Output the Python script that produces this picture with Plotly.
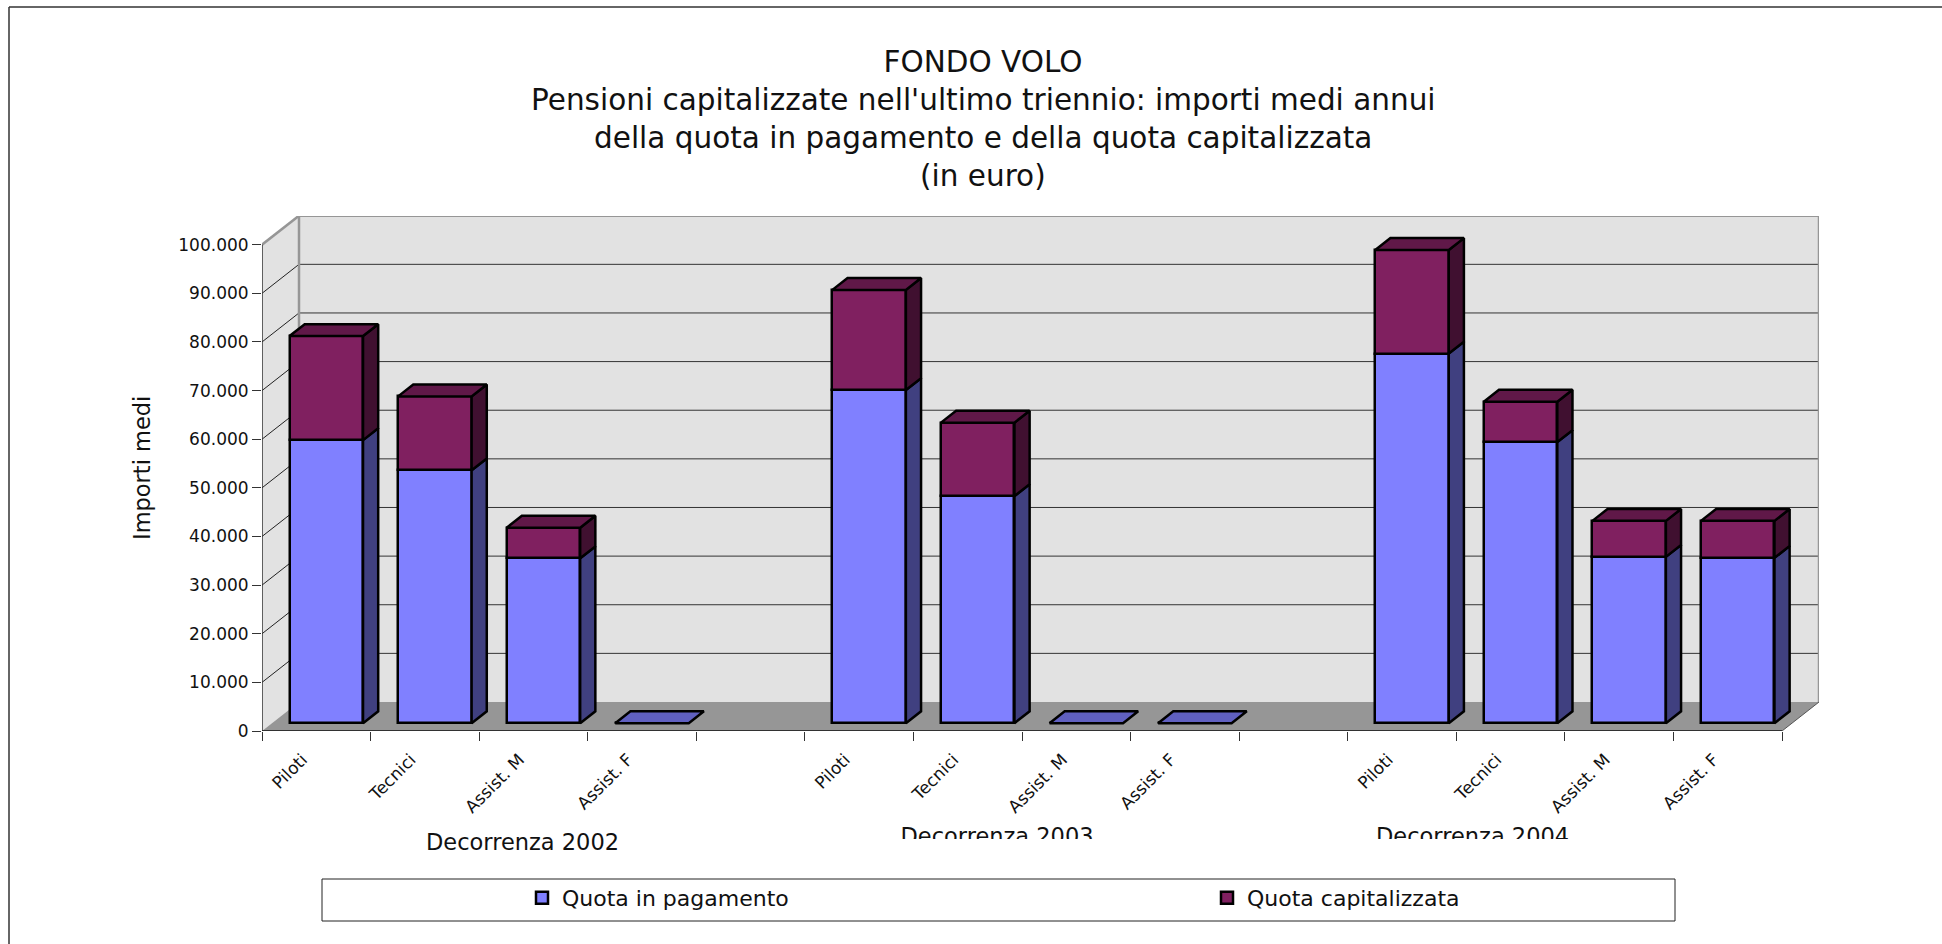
import plotly.graph_objects as go

# --- data -----------------------------------------------------------------
categories = ["Piloti", "Tecnici", "Assist. M", "Assist. F"]
group_names = ["Decorrenza 2002", "Decorrenza 2003", "Decorrenza 2004"]
quota_pagamento = [58200, 52000, 33900, 0, 68500, 46700, 0, 0, 76000, 57800, 34200, 34000]
quota_capitalizzata = [21400, 15200, 6300, 0, 20600, 15100, 0, 0, 21300, 8300, 7400, 7600]
y_ticks = [0, 10000, 20000, 30000, 40000, 50000, 60000, 70000, 80000, 90000, 100000]
y_tick_labels = ["0", "10.000", "20.000", "30.000", "40.000", "50.000", "60.000",
                 "70.000", "80.000", "90.000", "100.000"]
title_lines = ["FONDO VOLO",
               "Pensioni capitalizzate nell'ultimo triennio: importi medi annui",
               "della quota in pagamento e della quota capitalizzata",
               "(in euro)"]
y_title = "Importi medi"
series_names = ["Quota in pagamento", "Quota capitalizzata"]

# --- geometry -------------------------------------------------------------
W, H = 1942, 944
L, R, T, B = 262, 1819, 216, 731     # plot area in page px
SLOT_PX = 108.57
VAL_PX = 0.004863                    # px per unit of value
DX, DY = 37, 29                      # oblique offset of the full depth
N_SLOTS = 14
slots = [0, 1, 2, 3, 5, 6, 7, 8, 10, 11, 12, 13]
FONT = "DejaVu Sans"
INK = "#111111"
BAR_W = 0.677
Z0, Z1 = 0.27, 0.68                  # bar front / back in depth fraction

C_PAY, C_CAP = "#8080FF", "#802060"
C_PAY_SIDE, C_CAP_SIDE = "#404080", "#401030"
C_PAY_TOP, C_CAP_TOP = "#6060C0", "#601848"
WALL, FLOOR, EDGE = "#E2E2E2", "#969696", "#969696"


def px(slot, value, z=0.0):
    """Oblique projection of (slot, value, depth) into the axes' data space."""
    return slot + z * DX / SLOT_PX, value + z * DY / VAL_PX


def path(points):
    return "M" + " L".join(f"{x},{y}" for x, y in points) + " Z"


shapes = []


def poly(points, color):
    shapes.append(dict(type="path", xref="x", yref="y", layer="below", path=path(points),
                       fillcolor=color, line=dict(width=0)))


def seg(a, b, color, width):
    shapes.append(dict(type="line", xref="x", yref="y", layer="below",
                       x0=a[0], y0=a[1], x1=b[0], y1=b[1], line=dict(color=color, width=width)))


top = y_ticks[-1]
# walls and floor
poly([px(0, 0, 1), px(N_SLOTS, 0, 1), px(N_SLOTS, top, 1), px(0, top, 1)], WALL)
poly([px(0, 0), px(0, 0, 1), px(0, top, 1), px(0, top)], WALL)
poly([px(0, 0), px(N_SLOTS, 0), px(N_SLOTS, 0, 1), px(0, 0, 1)], FLOOR)
# gridlines
for v in y_ticks[1:-1]:
    seg(px(0, v), px(0, v, 1), "#222222", 1)
    seg(px(0, v, 1), px(N_SLOTS, v, 1), "#333333", 1)
# frame of the walls
seg(px(0, top), px(0, top, 1), EDGE, 2.5)
seg(px(0, top, 1), px(N_SLOTS, top, 1), EDGE, 2.5)
seg(px(0, 0, 1), px(0, top, 1), EDGE, 2.5)
seg(px(N_SLOTS, 0, 1), px(N_SLOTS, top, 1), EDGE, 2.5)
# axes
seg(px(0, 0), px(0, top), "#333333", 1.5)
seg(px(0, 0), px(N_SLOTS, 0), "#111111", 1.5)
seg(px(N_SLOTS, 0), px(N_SLOTS, 0, 1), "#555555", 1)

# page furniture (margins are zero, so paper coordinates are page fractions)
shapes += [
    dict(type="line", xref="paper", yref="paper", x0=9 / W, x1=9 / W, y0=0, y1=1 - 7 / H,
         line=dict(color="#333333", width=1.5)),
    dict(type="line", xref="paper", yref="paper", x0=9 / W, x1=1, y0=1 - 7 / H, y1=1 - 7 / H,
         line=dict(color="#333333", width=1.5)),
    dict(type="rect", xref="paper", yref="paper", x0=322 / W, x1=1675 / W, y0=1 - 921 / H,
         y1=1 - 879 / H, line=dict(color="#222222", width=1), fillcolor="white", layer="below"),
]

fig = go.Figure()

# front faces
front_x = [px(s + 0.5, 0, Z0)[0] for s in slots]
front_base = px(0, 0, Z0)[1]
fig.add_trace(go.Bar(x=front_x, y=quota_pagamento, base=[front_base] * 12, width=BAR_W,
                     name=series_names[0], marker=dict(color=C_PAY, line=dict(color="black", width=2.5))))
fig.add_trace(go.Bar(x=front_x, y=quota_capitalizzata, base=[front_base + p for p in quota_pagamento],
                     width=BAR_W, name=series_names[1],
                     marker=dict(color=C_CAP, line=dict(color="black", width=2.5))))


def face(points, color):
    xs = [p[0] for p in points] + [points[0][0]]
    ys = [p[1] for p in points] + [points[0][1]]
    fig.add_trace(go.Scatter(x=xs, y=ys, mode="lines", fill="toself", fillcolor=color,
                             line=dict(color="black", width=2.5), showlegend=False, hoverinfo="skip"))


for s, p, c in zip(slots, quota_pagamento, quota_capitalizzata):
    x0, x1 = s + 0.5 - BAR_W / 2, s + 0.5 + BAR_W / 2
    if p > 0:
        face([px(x1, 0, Z0), px(x1, 0, Z1), px(x1, p, Z1), px(x1, p, Z0)], C_PAY_SIDE)
        face([px(x1, p, Z0), px(x1, p, Z1), px(x1, p + c, Z1), px(x1, p + c, Z0)], C_CAP_SIDE)
    tot = p + c
    face([px(x0, tot, Z0), px(x1, tot, Z0), px(x1, tot, Z1), px(x0, tot, Z1)],
         C_CAP_TOP if tot > 0 else C_PAY_TOP)

# group labels: 2003/2004 are cut off at their bottom in the reference, so they
# sit in a separate clipped subplot
fig.add_trace(go.Scatter(x=[6.77, 11.15], y=[838, 838], xaxis="x", yaxis="y2", mode="text",
                         text=group_names[1:], textposition="middle center", cliponaxis=True,
                         textfont=dict(family=FONT, size=22.5, color=INK),
                         showlegend=False, hoverinfo="skip"))

# tick labels at slot centres on an overlaying x axis
fig.add_trace(go.Scatter(x=[0.5], y=[0], xaxis="x2", yaxis="y", mode="markers",
                         marker=dict(opacity=0), showlegend=False, hoverinfo="skip"))

annotations = [dict(text=t, x=983 / W, y=1 - yy / H, xref="paper", yref="paper", showarrow=False,
                    xanchor="center", yanchor="middle", font=dict(family=FONT, size=29.5, color=INK))
               for t, yy in zip(title_lines[1:], [100, 138, 176])]
annotations.append(dict(text=group_names[0], x=2.40, y=1 - 842 / H, xref="x", yref="paper",
                        showarrow=False, xanchor="center", yanchor="middle",
                        font=dict(family=FONT, size=22.5, color=INK)))
annotations.append(dict(text=y_title, x=142 / W, y=1 - 468 / H, xref="paper", yref="paper",
                        showarrow=False, textangle=-90, xanchor="center", yanchor="middle",
                        font=dict(family=FONT, size=22.5, color=INK)))

x_range = [0, N_SLOTS + DX / SLOT_PX]
x_domain = [L / W, R / W]
fig.update_layout(
    width=W, height=H, autosize=False, paper_bgcolor="white", plot_bgcolor="rgba(0,0,0,0)",
    margin=dict(l=0, r=0, t=0, b=0, pad=0),
    barmode="overlay", bargap=0, shapes=shapes, annotations=annotations,
    font=dict(family=FONT, color=INK),
    title=dict(text=title_lines[0], x=983 / W, xanchor="center", xref="paper",
               y=1 - 62 / H, yanchor="middle", yref="paper", automargin=False,
               font=dict(family=FONT, size=29.5, color=INK)),
    xaxis=dict(domain=x_domain, range=x_range, tickmode="array", tickvals=list(range(N_SLOTS + 1)),
               showticklabels=False, ticks="outside", ticklen=9, tickcolor="#333333", tickwidth=1,
               automargin=False,
               showgrid=False, zeroline=False, showline=False, fixedrange=True),
    xaxis2=dict(domain=x_domain, range=x_range, overlaying="x", anchor="y", side="bottom", tickmode="array",
                tickvals=[s + 0.5 for s in slots], ticktext=categories * 3, tickangle=-45,
                ticks="outside", ticklen=11, tickcolor="rgba(0,0,0,0)", ticklabelshift=-14,
                tickfont=dict(family=FONT, size=17, color=INK), automargin=False,
                showgrid=False, zeroline=False, showline=False, fixedrange=True),
    yaxis=dict(domain=[1 - B / H, 1 - T / H], range=[0, (B - T) / VAL_PX], tickmode="array",
               tickvals=y_ticks, ticktext=y_tick_labels,
               ticks="outside", ticklen=9, tickcolor="#333333", tickwidth=1,
               tickfont=dict(family=FONT, size=17, color=INK), automargin=False,
               showgrid=False, zeroline=False, showline=False, fixedrange=True),
    yaxis2=dict(domain=[1 - 839 / H, 1 - B / H], range=[839, B], visible=False, fixedrange=True,
                automargin=False),
    legend=dict(orientation="h", x=522 / W, xanchor="left",
                y=1 - 919 / H, yanchor="bottom",
                entrywidth=640, entrywidthmode="pixels", bgcolor="rgba(0,0,0,0)", borderwidth=0,
                font=dict(family=FONT, size=22, color=INK), traceorder="normal"),
)

fig.write_html("out.html", config=dict(displayModeBar=False),
               post_script="document.body.style.margin='0';")
